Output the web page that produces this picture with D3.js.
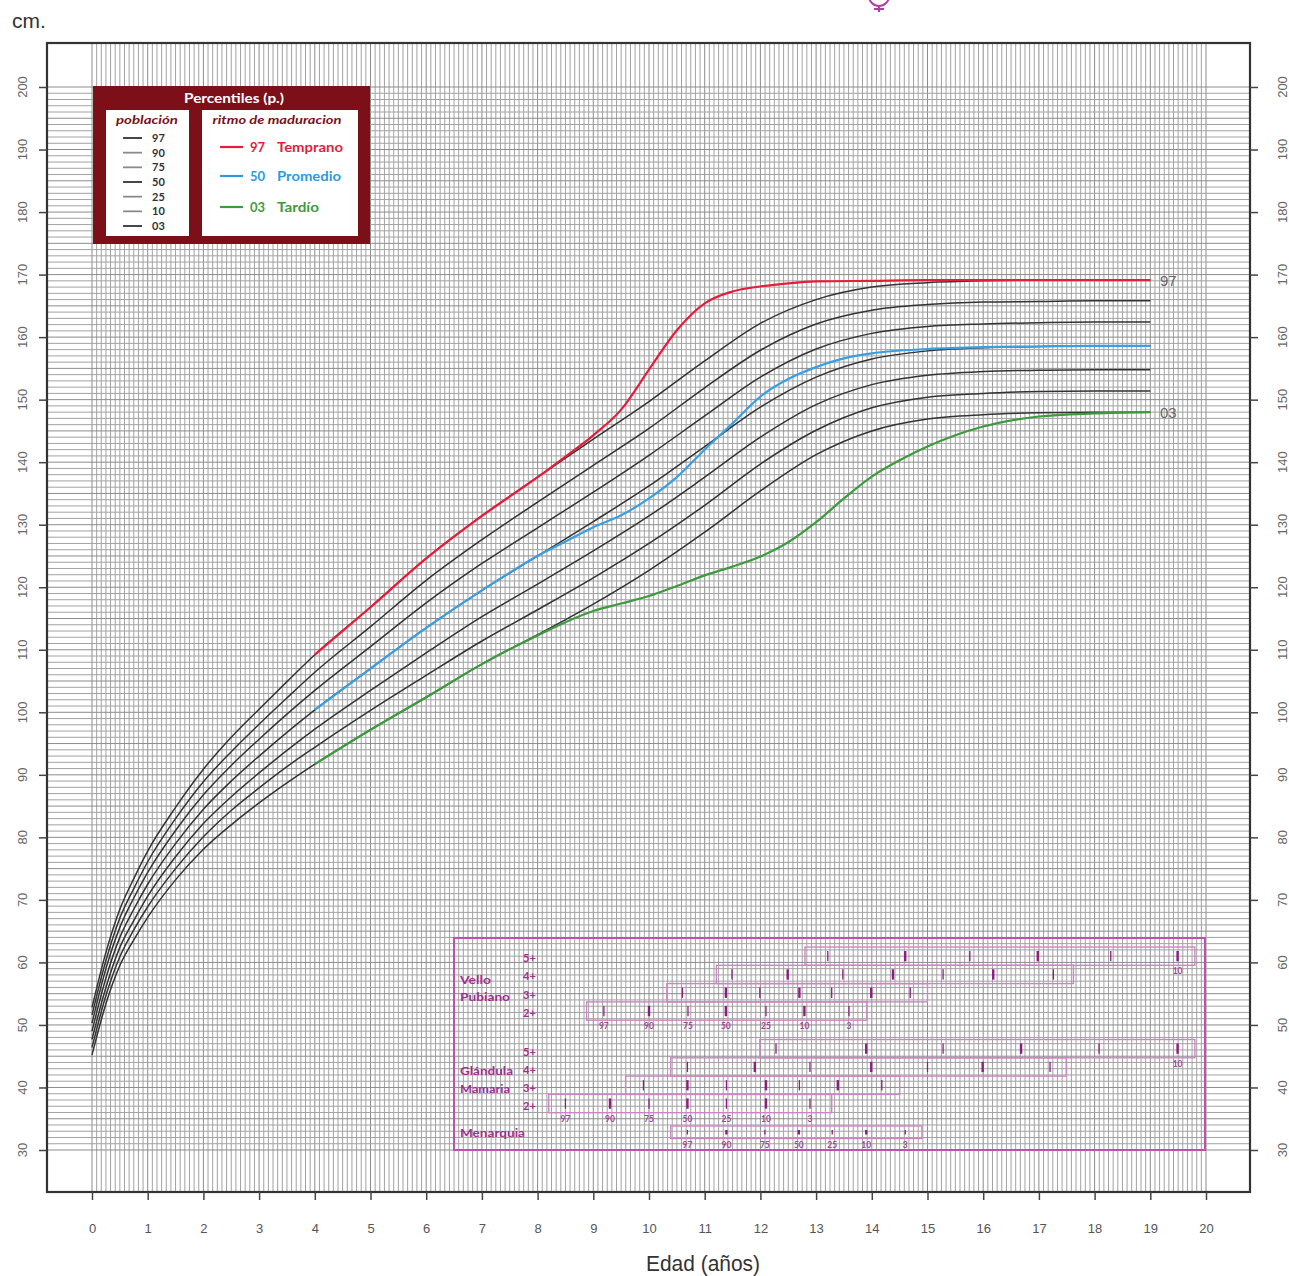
<!DOCTYPE html>
<html><head><meta charset="utf-8">
<script src="https://cdn.jsdelivr.net/npm/d3@7"></script>
<style>body{margin:0;background:#fff}svg{display:block}</style>
</head><body>
<svg id="c" width="1289" height="1276"></svg>
<script>
// ---------- DATA ----------
const ages = [0,0.25,0.5,0.75,1,1.5,2,2.5,3,3.5,4,5,6,7,8,9,10,11,12,13,14,15,16,17,18,19];
const p97 = [52.8,61.6,68.5,73.4,77.8,84.8,90.9,96.0,100.5,104.9,109.2,116.8,124.6,131.4,137.6,143.7,149.7,156.2,162.2,166.0,168.0,168.7,169.0,169.1,169.1,169.1];
const p90 = [51.6,60.3,67.1,71.8,76.1,83.0,88.9,93.7,98.1,102.3,106.4,113.7,121.1,127.6,133.6,139.5,145.4,151.9,157.9,162.1,164.3,165.2,165.6,165.7,165.8,165.8];
const p75 = [50.3,59.0,65.6,70.3,74.4,81.1,86.8,91.5,95.7,99.7,103.5,110.5,117.5,123.8,129.5,135.2,141.1,147.4,153.6,158.1,160.6,161.7,162.1,162.3,162.4,162.4];
const p50 = [49.0,57.5,64.0,68.5,72.5,79.0,84.5,89.0,93.0,96.8,100.4,107.0,113.5,119.5,125.0,130.5,136.2,142.5,148.8,153.6,156.5,157.8,158.3,158.5,158.6,158.6];
const p25 = [47.7,56.0,62.4,66.7,70.6,76.9,82.2,86.5,90.3,93.9,97.3,103.5,109.5,115.3,120.5,125.8,131.4,137.6,144.0,149.2,152.4,153.9,154.5,154.7,154.8,154.8];
const p10 = [46.4,54.7,60.9,65.2,68.9,75.0,80.1,84.3,87.9,91.3,94.4,100.3,105.9,111.4,116.4,121.5,127.0,133.1,139.7,145.1,148.7,150.4,151.0,151.3,151.4,151.4];
const p03 = [45.2,53.4,59.5,63.6,67.2,73.2,78.1,82.0,85.5,88.7,91.7,97.2,102.4,107.7,112.4,117.3,122.7,128.8,135.4,141.2,145.0,146.9,147.6,147.9,148.0,148.0];
const popLabels = ["97","90","75","50","25","10","03"];

const earlyAges = [4,5,6,7,8,8.5,9,9.5,10,10.5,11,11.5,12,12.5,13,14,15,16,17,18,19];
const earlyVals = [109.2,116.8,124.6,131.4,137.6,140.9,144.3,148.4,154.8,161.1,165.4,167.3,168.1,168.6,168.9,169.0,169.1,169.1,169.1,169.1,169.1];
const avgAges = [4,5,6,7,8,8.5,9,9.5,10,10.5,11,11.5,12,12.5,13,13.5,14,15,16,17,18,19];
const avgVals = [100.4,107.0,113.5,119.5,125.0,127.3,129.6,131.5,134.2,137.6,142.0,146.2,150.5,153.3,155.2,156.6,157.4,158.1,158.4,158.5,158.6,158.6];
const lateAges = [4,5,6,7,8,9,9.5,10,10.5,11,11.5,12,12.5,13,13.5,14,14.5,15,15.5,16,17,18,19];
const lateVals = [91.7,97.2,102.4,107.7,112.3,116.2,117.4,118.6,120.2,121.9,123.3,124.9,127.2,130.4,134.2,137.7,140.3,142.5,144.3,145.7,147.3,147.8,148.0];

const xTicks = d3.range(0, 21);
const yTicks = d3.range(30, 201, 10);

const tickPct = ["97","90","75","50","25","10","3"];
const pubicStages = ["5+","4+","3+","2+"];
const pubicStart = [12.8, 11.21, 10.32, 8.88];
const pubicEnd = [19.8, 17.62, 15.0, 13.91];
const pubicTicks = [
  [13.21,14.6,15.76,16.98,18.29,19.49],
  [11.49,12.49,13.48,14.38,15.28,16.18,17.26],
  [10.6,11.38,11.99,12.7,13.28,13.99,14.69],
  [9.19,10.0,10.7,11.38,12.1,12.79,13.59]
];
const breastStages = ["5+","4+","3+","2+"];
const breastStart = [11.99, 10.39, 9.58, 8.2];
const breastEnd = [19.8, 17.49, 14.5, 13.28];
const breastTicks = [
  [12.28,13.9,15.28,16.68,18.08,19.49],
  [10.69,11.9,12.89,13.99,15.0,15.99,17.2],
  [9.9,10.69,11.39,12.1,12.7,13.39,14.18],
  [8.5,9.3,10.0,10.69,11.39,12.1,12.89]
];
const menarcheStart = 10.39, menarcheEnd = 14.9;
const menarcheTicks = [10.69,11.39,12.08,12.69,13.29,13.9,14.6];

// ---------- LAYOUT ----------
const svg = d3.select("#c");
const frame = {l:47, r:1250, t:43, b:1192};
const x = d3.scaleLinear().domain([0,20]).range([92,1206]);
const y = d3.scaleLinear().domain([30,200]).range([1150,87]);
const axisFont = "'Liberation Sans Narrow','Liberation Sans',Arial,sans-serif";
const purple = "#a0308f";

// grid
const grid = svg.append("g");
grid.selectAll("line.v").data(d3.range(0, 241)).join("line")
  .attr("x1", m => x(m/12)).attr("x2", m => x(m/12))
  .attr("y1", frame.t).attr("y2", frame.b)
  .attr("stroke", m => m % 12 === 0 ? "#8c8c8c" : "#a2a2a2").attr("stroke-width", 1);
grid.selectAll("line.h").data(d3.range(30, 201)).join("line")
  .attr("y1", c => y(c)).attr("y2", c => y(c))
  .attr("x1", frame.l).attr("x2", frame.r)
  .attr("stroke", c => c % 5 === 0 ? "#8c8c8c" : "#a2a2a2").attr("stroke-width", 1);

// frame
svg.append("rect").attr("x", frame.l).attr("y", frame.t)
  .attr("width", frame.r - frame.l).attr("height", frame.b - frame.t)
  .attr("fill", "none").attr("stroke", "#333").attr("stroke-width", 2.2);

// axes
const xAxis = d3.axisBottom(x).tickValues(xTicks).tickSize(8).tickPadding(24);
const gx = svg.append("g").attr("transform", `translate(0,${frame.b})`).call(xAxis);
gx.select(".domain").remove();
gx.selectAll("line").attr("stroke", "#444").attr("stroke-width", 1.5);
gx.selectAll("text").attr("font-family", axisFont).attr("font-size", 13).attr("fill", "#555");

const yAxisL = d3.axisLeft(y).tickValues(yTicks).tickSize(8).tickFormat("");
const gyl = svg.append("g").attr("transform", `translate(${frame.l},0)`).call(yAxisL);
gyl.select(".domain").remove();
gyl.selectAll("line").attr("stroke", "#444").attr("stroke-width", 1.5);
const yAxisR = d3.axisRight(y).tickValues(yTicks).tickSize(8).tickFormat("");
const gyr = svg.append("g").attr("transform", `translate(${frame.r},0)`).call(yAxisR);
gyr.select(".domain").remove();
gyr.selectAll("line").attr("stroke", "#444").attr("stroke-width", 1.5);

[22, 1282].forEach(px => {
  svg.append("g").selectAll("text").data(yTicks).join("text")
    .attr("transform", d => `translate(${px},${y(d)}) rotate(-90)`)
    .attr("text-anchor", "middle").attr("dy", "0.35em")
    .attr("font-family", axisFont).attr("font-size", 13).attr("fill", "#666")
    .text(d => d);
});

svg.append("text").attr("x", 12).attr("y", 28).attr("font-family", axisFont)
  .attr("font-size", 21).attr("fill", "#333").text("cm.");
svg.append("text").attr("x", 703).attr("y", 1271).attr("text-anchor", "middle")
  .attr("font-family", axisFont).attr("font-size", 22).attr("fill", "#333")
  .attr("textLength", 114).attr("lengthAdjust", "spacingAndGlyphs").text("Edad (años)");

// venus symbol partially cut at top
const vs = svg.append("g").attr("fill", "none").attr("stroke", "#b040a0").attr("stroke-width", 2);
vs.append("circle").attr("cx", 879).attr("cy", -4).attr("r", 10);
vs.append("line").attr("x1", 879).attr("x2", 879).attr("y1", 6).attr("y2", 12);
vs.append("line").attr("x1", 874).attr("x2", 884).attr("y1", 9).attr("y2", 9);

// ---------- CURVES ----------
const line = d3.line().x(d => x(d[0])).y(d => y(d[1])).curve(d3.curveMonotoneX);
const pops = [p97, p90, p75, p50, p25, p10, p03];
svg.append("g").selectAll("path").data(pops).join("path")
  .attr("d", vals => line(ages.map((a, i) => [a, vals[i]])))
  .attr("fill", "none").attr("stroke", "#333").attr("stroke-width", 1.5);

const colored = [
  {a: lateAges, v: lateVals, c: "#3e9a3e"},
  {a: avgAges, v: avgVals, c: "#3a9fe2"},
  {a: earlyAges, v: earlyVals, c: "#e51d3b"}
];
svg.append("g").selectAll("path").data(colored).join("path")
  .attr("d", d => line(d.a.map((a, i) => [a, d.v[i]])))
  .attr("fill", "none").attr("stroke", d => d.c).attr("stroke-width", 2.2);

svg.append("text").attr("x", 1160).attr("y", y(p97[p97.length-1])).attr("dy", "0.4em")
  .attr("font-family", axisFont).attr("font-size", 15).attr("fill", "#666").text("97");
svg.append("text").attr("x", 1160).attr("y", y(p03[p03.length-1])).attr("dy", "0.4em")
  .attr("font-family", axisFont).attr("font-size", 15).attr("fill", "#666").text("03");

// ---------- LEGEND ----------
const lf = "Lato,'Open Sans',sans-serif";
const maroon = "#7d0f19";
const lg = svg.append("g");
lg.append("rect").attr("x", 93).attr("y", 86).attr("width", 277).attr("height", 158).attr("fill", maroon);
lg.append("text").attr("x", 234).attr("y", 103).attr("text-anchor", "middle")
  .attr("font-family", lf).attr("font-weight", "bold").attr("font-size", 13).attr("fill", "#fff")
  .attr("textLength", 100).attr("lengthAdjust", "spacingAndGlyphs")
  .text("Percentiles (p.)");
lg.append("rect").attr("x", 106).attr("y", 110).attr("width", 83).attr("height", 126).attr("fill", "#fff");
lg.append("rect").attr("x", 202).attr("y", 110).attr("width", 156).attr("height", 126).attr("fill", "#fff");
lg.append("text").attr("x", 147).attr("y", 124).attr("text-anchor", "middle")
  .attr("font-family", lf).attr("font-weight", "bold").attr("font-style", "italic")
  .attr("font-size", 12).attr("fill", maroon)
  .attr("textLength", 62).attr("lengthAdjust", "spacingAndGlyphs").text("población");
lg.append("text").attr("x", 277).attr("y", 124).attr("text-anchor", "middle")
  .attr("font-family", lf).attr("font-weight", "bold").attr("font-style", "italic")
  .attr("font-size", 12).attr("fill", maroon)
  .attr("textLength", 129).attr("lengthAdjust", "spacingAndGlyphs").text("ritmo de maduracion");
const popRowY = d3.scaleLinear().domain([0, 6]).range([138, 226]);
popLabels.forEach((p, i) => {
  const dark = (p === "97" || p === "50" || p === "03");
  lg.append("line").attr("x1", 123).attr("x2", 142).attr("y1", popRowY(i)).attr("y2", popRowY(i))
    .attr("stroke", dark ? "#333" : "#8a8a8a").attr("stroke-width", 1.8);
  lg.append("text").attr("x", 152).attr("y", popRowY(i)).attr("dy", "0.35em")
    .attr("font-family", lf).attr("font-weight", "bold").attr("font-size", 11).attr("fill", "#333").text(p);
});
const rhythm = [
  {p: "97", n: "Temprano", c: "#e51d3b", yy: 147, w: 66},
  {p: "50", n: "Promedio", c: "#2b9be0", yy: 176, w: 64},
  {p: "03", n: "Tardío", c: "#3e9a3e", yy: 207, w: 42}
];
rhythm.forEach(r => {
  lg.append("line").attr("x1", 220).attr("x2", 243).attr("y1", r.yy).attr("y2", r.yy)
    .attr("stroke", r.c).attr("stroke-width", 2.2);
  lg.append("text").attr("x", 250).attr("y", r.yy).attr("dy", "0.35em")
    .attr("font-family", lf).attr("font-weight", "bold").attr("font-size", 13).attr("fill", r.c).text(r.p);
  lg.append("text").attr("x", 277).attr("y", r.yy).attr("dy", "0.35em")
    .attr("font-family", lf).attr("font-weight", "bold").attr("font-size", 13).attr("fill", r.c)
    .attr("textLength", r.w).attr("lengthAdjust", "spacingAndGlyphs").text(r.n);
});

// ---------- MATURATION INSET ----------
const ins = svg.append("g");
ins.append("rect").attr("x", 454).attr("y", 938).attr("width", 751).attr("height", 212)
  .attr("fill", "none").attr("stroke", "#c050b0").attr("stroke-width", 2);
const barStroke = "#cf85c5", tickCol = "#8e1d80";
const rowH = 18.3;
function drawBar(start, end, ticks, top, h, labelsBelow, tenLabel) {
  ins.append("rect").attr("x", x(start)).attr("y", top).attr("width", x(end) - x(start)).attr("height", h)
    .attr("fill", "none").attr("stroke", barStroke).attr("stroke-width", 1.4);
  ticks.forEach((t, i) => {
    const thick = (i % 2 === 1);
    ins.append("line").attr("x1", x(t)).attr("x2", x(t)).attr("y1", top + 4).attr("y2", top + h - 4)
      .attr("stroke", tickCol).attr("stroke-width", thick ? 2.4 : 1.3);
  });
  if (labelsBelow) {
    ticks.forEach((t, i) => {
      ins.append("text").attr("x", x(t)).attr("y", top + h + 9).attr("text-anchor", "middle")
        .attr("font-family", lf).attr("font-size", 8.5).attr("font-weight", "bold").attr("fill", "#a04898")
        .text(tickPct[i]);
    });
  }
  if (tenLabel) {
    const t = ticks[ticks.length - 1];
    ins.append("text").attr("x", x(t)).attr("y", top + h + 9).attr("text-anchor", "middle")
      .attr("font-family", lf).attr("font-size", 8.5).attr("font-weight", "bold").attr("fill", "#a04898")
      .text(tickPct[ticks.length - 1]);
  }
}
function stageLabel(txt, yy) {
  ins.append("text").attr("x", 523).attr("y", yy).attr("dy", "0.35em")
    .attr("font-family", lf).attr("font-weight", "bold").attr("font-size", 11).attr("fill", purple).text(txt);
}
function groupLabel(txt, yy, w) {
  ins.append("text").attr("x", 460).attr("y", yy).attr("dy", "0.35em")
    .attr("font-family", lf).attr("font-weight", "bold").attr("font-size", 11).attr("fill", purple)
    .attr("textLength", w).attr("lengthAdjust", "spacingAndGlyphs").text(txt);
}
const pubTop = 947;
pubicStages.forEach((s, i) => {
  const top = pubTop + i * rowH;
  drawBar(pubicStart[i], pubicEnd[i], pubicTicks[i], top, rowH, i === 3, pubicTicks[i].length === 6);
  stageLabel(s, top + rowH / 2 + 2);
});
groupLabel("Vello", 980, 31);
groupLabel("Pubiano", 997, 50);
const brTop = 1039.5;
breastStages.forEach((s, i) => {
  const top = brTop + i * rowH;
  drawBar(breastStart[i], breastEnd[i], breastTicks[i], top, rowH, i === 3, breastTicks[i].length === 6);
  stageLabel(s, top + rowH / 2 + 3);
});
groupLabel("Glándula", 1071, 53);
groupLabel("Mamaria", 1089, 50);
drawBar(menarcheStart, menarcheEnd, menarcheTicks, 1126, 12.5, true, false);
groupLabel("Menarquia", 1133, 65);
</script>
</body></html>
